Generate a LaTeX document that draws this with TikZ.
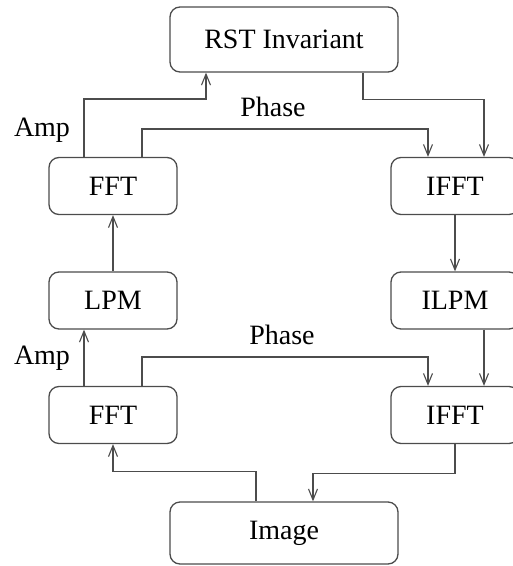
\documentclass[tikz,border=0pt]{standalone}
\usepackage{fontspec}
\setmainfont{Liberation Serif}
\usetikzlibrary{arrows.meta, shapes, positioning}

\tikzset{
  block/.style={draw=black!70, line width=1.3pt, rounded corners=10pt,
    minimum width=128pt, minimum height=57pt, inner sep=0pt},
  arr/.style={draw=black!70, line width=1.3pt,
    -{Straight Barb[length=11pt,width=9pt,line width=1.1pt]}},
  lbl/.style={inner sep=0pt}
}

\begin{document}
\begin{tikzpicture}[x=1pt, y=-1pt, font=\fontsize{28}{33}\selectfont]
        \useasboundingbox (0,0) rectangle (513,566);

        \node[block, minimum width=228pt, minimum height=65pt] (rst) at (284,39.5) {RST Invariant};
        \node[block] (fftA) at (113,186) {FFT};
        \node[block] (ifftA) at (455,186) {IFFT};
        \node[block] (lpm) at (113,300.5) {LPM};
        \node[block] (ilpm) at (455,300.5) {ILPM};
        \node[block] (fftB) at (113,415) {FFT};
        \node[block] (ifftB) at (455,415) {IFFT};
        \node[block, minimum width=228pt, minimum height=62pt] (img) at (284,533) {Image};

        \node[lbl] (ampA) at (42,130) {Amp};
        \node[lbl] (phaseA) at (273,107) {Phase};
        \node[lbl] (ampB) at (42,358) {Amp};
        \node[lbl] (phaseB) at (282,335) {Phase};

        % upper loop
        \draw[arr] ([xshift=-29pt]fftA.north) -- ++(0,-58) -| ([xshift=-78pt]rst.south);
        \draw[arr] ([xshift=29pt]fftA.north) -- ++(0,-28) -| ([xshift=-27pt]ifftA.north);
        \draw[arr] ([xshift=79pt]rst.south) -- ++(0,27) -| ([xshift=29pt]ifftA.north);

        \path[arr] (lpm) edge (fftA)
                   (ifftA) edge (ilpm);

        % lower loop
        \draw[arr] ([xshift=-29pt]fftB.north) -- ([xshift=-29pt]lpm.south);
        \draw[arr] ([xshift=29pt]fftB.north) -- ++(0,-29) -| ([xshift=-27pt]ifftB.north);
        \draw[arr] ([xshift=29pt]ilpm.south) -- ([xshift=29pt]ifftB.north);
        \draw[arr] ([xshift=-28pt]img.north) -- ++(0,-30) -| (fftB.south);
        \draw[arr] (ifftB.south) -- ++(0,29) -| ([xshift=29pt]img.north);
\end{tikzpicture}
\end{document}
